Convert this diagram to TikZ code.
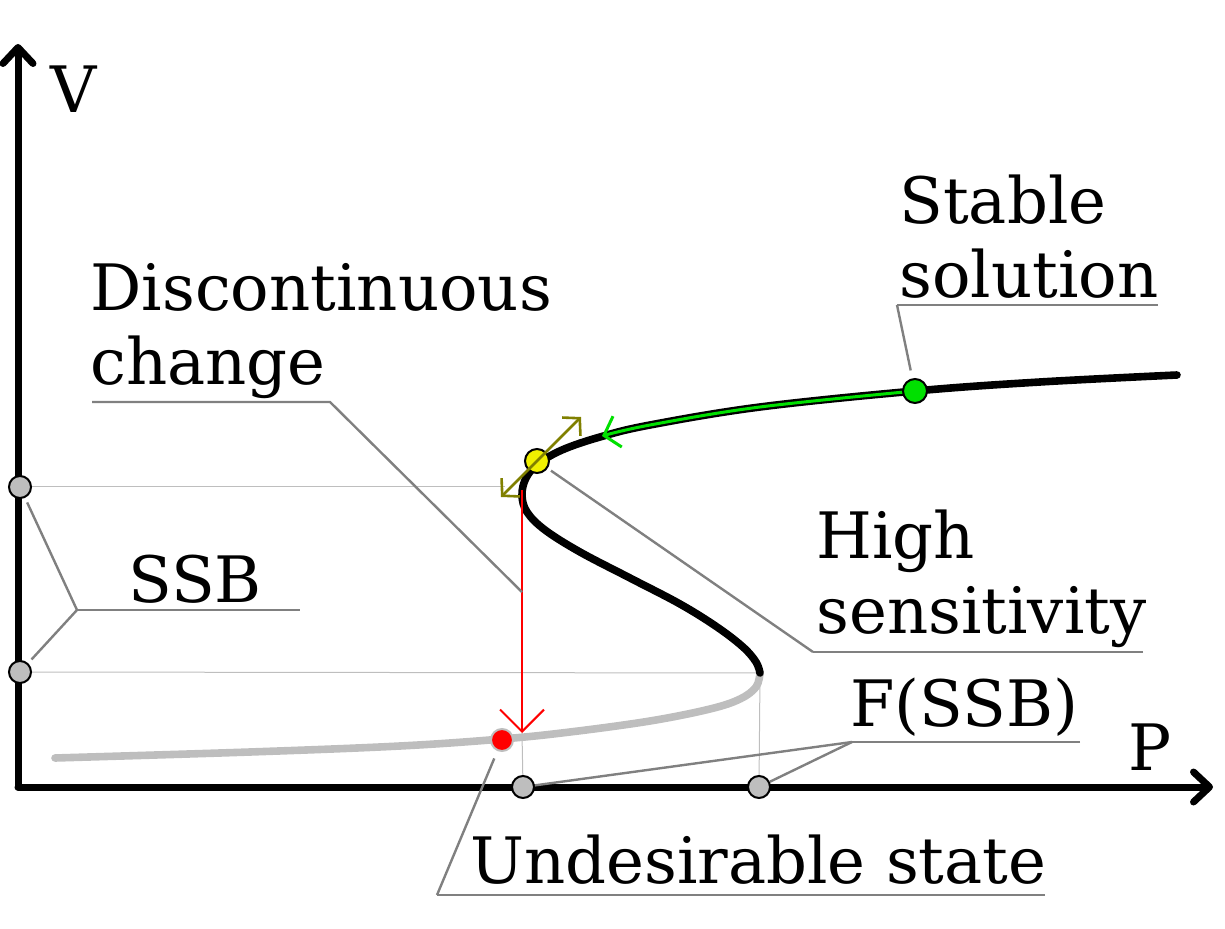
\documentclass[tikz,border=0pt]{standalone}
\usepackage{fontspec}
\setmainfont{DejaVu Serif}
\usetikzlibrary{arrows.meta,calc}
\definecolor{cstab}{HTML}{00E000}
\definecolor{cjump}{HTML}{FF0000}
\definecolor{csens}{HTML}{808000}
\definecolor{clead}{HTML}{808080}
\definecolor{cweak}{HTML}{BEBEBE}
\definecolor{cmark}{HTML}{F0F000}
\tikzset{
  axisln/.style={line width=3.5pt, line cap=round, -{Straight Barb[length=8pt, width=15pt, round]}},
  branch/.style={line width=3.8pt, line cap=round},
  guide/.style={draw=cweak, line width=0.5pt},
  lead/.style={draw=clead, line width=1.2pt},
  jump/.style={draw=cjump, line width=1pt, -{Straight Barb[length=11pt, width=22pt]}},
  sens/.style={draw=csens, line width=1.3pt, {Straight Barb[length=6pt, width=13pt]}-{Straight Barb[length=6pt, width=13pt]}},
  stabln/.style={draw=cstab, line width=1.5pt, -{Straight Barb[length=7pt, width=16pt]}},
  dot/.style={circle, draw=black, line width=1pt, inner sep=0pt, minimum size=11pt},
  pdot/.style={dot, fill=cweak},
  ydot/.style={dot, fill=cmark, minimum size=12pt},
  gdot/.style={dot, fill=cstab, minimum size=12pt},
  rdot/.style={dot, fill=cjump, draw=cweak},
  lbl/.style={font=\fontsize{32}{37}\selectfont, inner sep=0pt, anchor=base west, align=left},
}
\begin{document}
\begin{tikzpicture}[x=0.5pt,y=-0.5pt]
\useasboundingbox (0,0) rectangle (1225,929);
% ---------------- axes
\coordinate (o) at (18,787);
\coordinate (vtip) at (18,44);
\coordinate (ptip) at (1213,787);
\draw[axisln] (o) -- (vtip);
\draw[axisln] (o) -- (ptip);
\node[lbl] (vlab) at (50,113) {V};
\node[lbl] (plab) at (1128,770) {P};
% ---------------- guides
\coordinate (turn) at (760,673);
\coordinate (bend) at (522,490);
\coordinate (jend) at (522,733);
\coordinate (sa) at (501,497);
\coordinate (sb) at (581,417);
\draw[guide] (20,487) -- (505,487);
\draw[guide] (20,672) -- (turn);
\draw[guide] (turn) -- (759,787);
\draw[guide] (jend) -- (523,787);
% ---------------- curve
\draw[branch, draw=cweak] plot[smooth, tension=0.6] coordinates {
  (760,673) (756,687) (740,699) (710,709) (650,721) (570,732) (502,739)
  (400,746) (250,752) (55,758)};
\draw[branch] plot[smooth, tension=0.6] coordinates {
  (1177,375) (1040,382) (915,391) (760,407) (650,425) (600,437) (562,450)
  (538,464) (526,478) (522,495) (527,512) (545,530) (580,552) (630,578)
  (680,604) (717,627) (743,647) (756,662) (760,673)};
\draw[stabln] plot[smooth, tension=0.6] coordinates {
  (915,391) (760,407) (650,425) (602,436)};
\draw[jump] (bend) -- coordinate[pos=0.42] (jmid) (jend);
% ---------------- points
\node[pdot] (s1) at (20,487) {};
\node[pdot] (s2) at (20,672) {};
\node[pdot] (f1) at (523,787) {};
\node[pdot] (f2) at (759,787) {};
\node[rdot] (und) at (502,740) {};
\node[gdot] (stab) at (915,391) {};
\node[ydot] (nose) at (537,461) {};
\draw[sens] (sa) -- (sb);
% ---------------- labels
\node[lbl] (stabt) at (899,298) {Stable\\solution};
\coordinate (stl) at (897,305);
\coordinate (str) at (1158,305);
\draw[lead] (str) -- (stl);
\draw[lead, shorten >=4pt] (stl) -- (stab);
\node[lbl] (disct) at (90,385) {Discontinuous\\change};
\coordinate (dcl) at (92,402);
\coordinate (dcr) at (330,402);
\draw[lead] (dcl) -- (dcr) -- (jmid);
\node[lbl] (ssbt) at (128,603) {SSB};
\coordinate (sbl) at (77,610);
\coordinate (sbr) at (300,610);
\draw[lead] (sbl) -- (sbr);
\draw[lead, shorten >=2.5pt] (sbl) -- (s1);
\draw[lead, shorten >=2.5pt] (sbl) -- (s2);
\node[lbl] (senst) at (816,633) {High\\sensitivity};
\coordinate (hsl) at (813,652);
\coordinate (hsr) at (1143,652);
\draw[lead] (hsr) -- (hsl);
\draw[lead, shorten >=2pt] (hsl) -- (nose);
\node[lbl] (fssbt) at (850,726) {F(SSB)};
\coordinate (ffl) at (852,742);
\coordinate (ffr) at (1080,742);
\draw[lead] (ffr) -- (ffl);
\draw[lead] (ffl) -- (f1);
\draw[lead] (ffl) -- (f2);
\node[lbl] (undt) at (470,883) {Undesirable state};
\coordinate (usl) at (437,895);
\coordinate (usr) at (1045,895);
\draw[lead] (usr) -- (usl);
\draw[lead, shorten >=4pt] (usl) -- (und);
\end{tikzpicture}
\end{document}
